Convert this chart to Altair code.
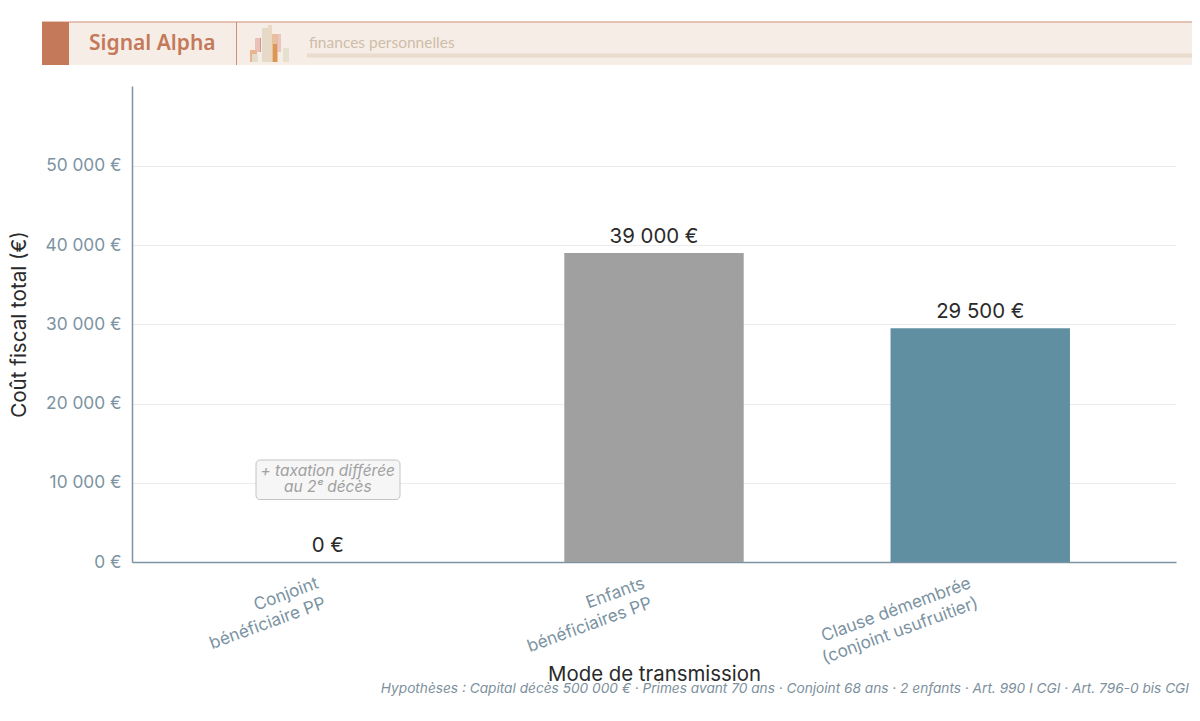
import altair as alt
import pandas as pd

categories = ["Conjoint\nbénéficiaire PP", "Enfants\nbénéficiaires PP", "Clause démembrée\n(conjoint usufruitier)"]
values = [0, 39000, 29500]
value_labels = ["0 €", "39 000 €", "29 500 €"]
bar_colors = ["#a0a0a0", "#a0a0a0", "#5f8fa1"]
y_ticks = [0, 10000, 20000, 30000, 40000, 50000]
note_lines = ["+ taxation différée", "au 2ᵉ décès"]
note_values = [11500, 9450]
footer = "Hypothèses : Capital décès 500 000 € · Primes avant 70 ans · Conjoint 68 ans · 2 enfants · Art. 990 I CGI · Art. 796-0 bis CGI"

AXIS = "#7b93a2"
DARK = "#2a2a2a"
FONT = "Inter"
ACC = "#c47a5a"

df = pd.DataFrame({"cat": categories, "val": values, "lab": value_labels, "col": bar_colors})
xs = alt.Scale(domain=categories, paddingInner=0.45, paddingOuter=0.325)
ys = alt.Scale(domain=[0, 60100], nice=False)

x_axis = alt.Axis(
    title="Mode de transmission", titleFont=FONT, titleFontSize=20.4, titleFontWeight="normal", titleColor=DARK,
    titlePadding=0, titleY=112, titleBaseline="middle",
    labelFont=FONT, labelFontSize=17.2, labelColor=AXIS, labelAngle=340, labelAlign="right", labelBaseline="top",
    labelOffset=-13, labelPadding=12, labelExpr="split(datum.label, '\\n')", labelOverlap=False, labelBound=False, labelFlush=False,
    labelLineHeight=21, ticks=False, domainColor=AXIS, domainWidth=1.5, grid=False)
y_axis = alt.Axis(
    title="Coût fiscal total (€)", titleFont=FONT, titleFontSize=20.6, titleFontWeight="normal", titleColor=DARK,
    titleX=-113, titleBaseline="middle",
    labelFont=FONT, labelFontSize=17.3, labelColor=AXIS, labelPadding=11,
    labelExpr="replace(format(datum.value, ','), ',', ' ') + ' €'",
    values=y_ticks, ticks=False, domainColor=AXIS, domainWidth=1.5, grid=True, gridColor="#e9ecec", gridWidth=1)

bars = alt.Chart(df).mark_bar().encode(
    x=alt.X("cat:N", sort=categories, scale=xs, axis=x_axis),
    y=alt.Y("val:Q", scale=ys, axis=y_axis),
    color=alt.Color("col:N", scale=None),
)
labels = alt.Chart(df).mark_text(font=FONT, fontSize=20.4, color=DARK, baseline="bottom", dy=-6).encode(
    x=alt.X("cat:N", sort=categories, scale=xs), y=alt.Y("val:Q", scale=ys), text="lab:N")

note_box = alt.Chart(pd.DataFrame({"a": [0]})).mark_rect(
    fill="#f6f6f6", stroke="#c4c4c4", strokeWidth=1, cornerRadius=4
).encode(x=alt.value(124), x2=alt.value(268), y=alt.value(374), y2=alt.value(413.5))
note_text = alt.Chart(pd.DataFrame({"cat": [categories[0]] * 2, "v": note_values, "t": note_lines})).mark_text(
    font="Inter", fontStyle="italic", fontSize=15.5, color="#a0a0a0"
).encode(x=alt.X("cat:N", sort=categories, scale=xs), y=alt.Y("v:Q", scale=ys), text="t:N")

# Banner (all in pixels relative to the plot area: plot origin is at page x=132, y=86)
def rect(x1, x2, y1, y2, fill, opacity=1.0):
    return alt.Chart(pd.DataFrame({"a": [0]})).mark_rect(fill=fill, opacity=opacity, clip=False).encode(
        x=alt.value(x1 - 132), x2=alt.value(x2 - 132), y=alt.value(y1 - 86), y2=alt.value(y2 - 86))

def text(x, y, s, **kw):
    return alt.Chart(pd.DataFrame({"t": [s]})).mark_text(baseline="middle", **kw).encode(
        x=alt.value(x - 132), y=alt.value(y - 86), text="t:N")

banner = [
    rect(42, 1200, 22, 65, "#f7ede7"),
    rect(42, 1200, 21.5, 22.5, "#cf8e74"),
    rect(42, 69, 22, 65, ACC),
    rect(236, 237, 22, 65, "#cf8e74"),
    rect(307, 1200, 53.5, 57.5, "#e9dccd"),
    rect(250, 257, 50, 62, "#e3a878", 0.8),
    rect(252, 258, 54, 62, "#e2e0d4", 0.9),
    rect(255, 261, 38, 52, "#e5b5ae", 0.8),
    rect(260, 261, 38, 52, "#c9868a", 0.8),
    rect(262, 268, 28, 62, "#e4d9c6", 0.95),
    rect(268, 272, 25, 62, "#e5d4bd", 0.85),
    rect(272, 278, 34, 62, "#e3b48b", 0.8),
    rect(273, 277, 44, 62, "#d98a3c", 0.75),
    rect(277, 281, 34, 52, "#e5b5ae", 0.7),
    rect(283, 289, 48, 62, "#e4dfcd", 0.95),
    text(89, 43.5, "Signal Alpha", font="Noto Sans", fontWeight=600, fontSize=21, color=ACC, align="left"),
    text(309, 43, "finances personnelles", font="Lato", fontSize=15.5, color="#cdbda9", align="left"),
    text(1189, 689, footer, font=FONT, fontStyle="italic", fontSize=13.68, color="#7d909c", align="right"),
]

chart = alt.layer(bars, labels, note_box, note_text, *banner).properties(
    width=1044, height=476,
    autosize=alt.AutoSizeParams(type="none"),
    padding={"left": 124, "top": 78, "right": 16, "bottom": 143},
    background="white",
).configure_view(stroke=None)

chart.save("out.html", embed_options={"renderer": "svg", "actions": False})
